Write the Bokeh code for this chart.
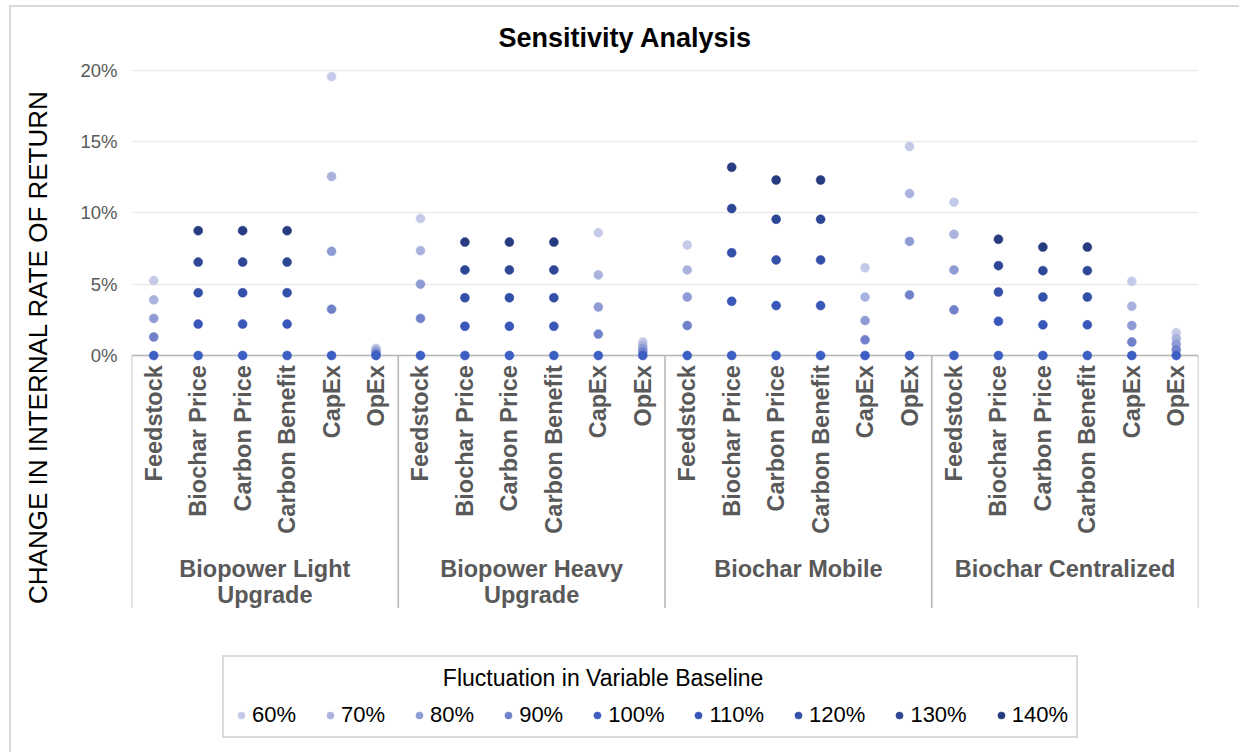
import math
from bokeh.plotting import figure
from bokeh.models import (ColumnDataSource, FactorRange, Range1d, FixedTicker,
                          PrintfTickFormatter, Legend, LegendItem)
from bokeh.core.properties import value
from bokeh.embed import file_html
from bokeh.resources import INLINE

nan = float("nan")

# ---------------- data ----------------
groups = ["Biopower Light Upgrade", "Biopower Heavy Upgrade", "Biochar Mobile", "Biochar Centralized"]
group_labels = ["Biopower Light\nUpgrade", "Biopower Heavy\nUpgrade", "Biochar Mobile", "Biochar Centralized"]
variables = ["Feedstock", "Biochar Price", "Carbon Price", "Carbon Benefit", "CapEx", "OpEx"]
fluctuations = ["60%", "70%", "80%", "90%", "100%", "110%", "120%", "130%", "140%"]

# change in internal rate of return (%), per fluctuation level;
# order: for each group, the six variables; nan = below 0 (not shown on the chart)
irr_60 = [5.25, nan, nan, nan, 19.55, 0.50,
          9.60, nan, nan, nan, 8.60, 0.95,
          7.75, nan, nan, nan, 6.15, 14.65,
          10.75, nan, nan, nan, 5.20, 1.60]
irr_70 = [3.90, nan, nan, nan, 12.55, 0.38,
          7.35, nan, nan, nan, 5.65, 0.71,
          6.00, nan, nan, nan, 4.10, 11.35,
          8.50, nan, nan, nan, 3.45, 1.20]
irr_80 = [2.60, nan, nan, nan, 7.30, 0.25,
          5.00, nan, nan, nan, 3.40, 0.47,
          4.10, nan, nan, nan, 2.45, 8.00,
          6.00, nan, nan, nan, 2.10, 0.80]
irr_90 = [1.30, nan, nan, nan, 3.25, 0.13,
          2.60, nan, nan, nan, 1.50, 0.24,
          2.10, nan, nan, nan, 1.10, 4.25,
          3.20, nan, nan, nan, 0.95, 0.40]
irr_100 = [0, 0, 0, 0, 0, 0,
           0, 0, 0, 0, 0, 0,
           0, 0, 0, 0, 0, 0,
           0, 0, 0, 0, 0, 0]
irr_110 = [nan, 2.20, 2.20, 2.20, nan, nan,
           nan, 2.05, 2.05, 2.05, nan, nan,
           nan, 3.80, 3.50, 3.50, nan, nan,
           nan, 2.40, 2.15, 2.15, nan, nan]
irr_120 = [nan, 4.40, 4.40, 4.40, nan, nan,
           nan, 4.05, 4.05, 4.05, nan, nan,
           nan, 7.20, 6.70, 6.70, nan, nan,
           nan, 4.45, 4.10, 4.10, nan, nan]
irr_130 = [nan, 6.55, 6.55, 6.55, nan, nan,
           nan, 6.00, 6.00, 6.00, nan, nan,
           nan, 10.30, 9.55, 9.55, nan, nan,
           nan, 6.30, 5.95, 5.95, nan, nan]
irr_140 = [nan, 8.75, 8.75, 8.75, nan, nan,
           nan, 7.95, 7.95, 7.95, nan, nan,
           nan, 13.20, 12.30, 12.30, nan, nan,
           nan, 8.15, 7.60, 7.60, nan, nan]

series = [irr_60, irr_70, irr_80, irr_90, irr_100, irr_110, irr_120, irr_130, irr_140]
colors = ["#c5cae8", "#aab3de", "#8f9bd4", "#7182cb", "#3d5ec3",
          "#3957b8", "#3350a9", "#2d4696", "#273b80"]

y_ticks = [0, 5, 10, 15, 20]

# ---------------- layout constants ----------------
FONT = "Liberation Sans"
GREY = "#595959"
LINE = "#b8b8b8"
SUB_LABEL_Y = -0.68      # top of the rotated variable labels (data units, below 0)
GROUP_LABEL_Y = -14.05   # top of the group labels
SEP_BOTTOM = -17.7       # lower end of the group separators

factors = [(g, v) for g in groups for v in variables]

p = figure(width=1239, height=752,
           x_range=FactorRange(*factors, factor_padding=0, group_padding=0, range_padding=0),
           y_range=Range1d(-27.48, 20.05),
           x_axis_location=None,
           output_backend="svg", toolbar_location=None,
           min_border_left=131, min_border_right=41, min_border_top=69, min_border_bottom=5)

p.outline_line_color = None
p.background_fill_color = "white"
p.border_fill_color = None
# light chart-area border along the top and left edges (as in the reference)
p.styles = {
    "background-color": "white",
    "background-image": "linear-gradient(#d9d9d9, #d9d9d9), linear-gradient(#d9d9d9, #d9d9d9)",
    "background-size": "2px 100%, 100% 2px",
    "background-position": "9px 5px, 9px 5px",
    "background-repeat": "no-repeat",
}

# title
p.title.text = "Sensitivity Analysis"
p.title.text_font = FONT
p.title.text_font_size = "27px"
p.title.text_font_style = "bold"
p.title.text_color = "#000000"
p.title.align = "left"
p.title.offset = 367
p.title.standoff = 34

# grid
p.xgrid.visible = False
p.ygrid.ticker = FixedTicker(ticks=y_ticks)
p.ygrid.grid_line_color = "#ebebeb"
p.ygrid.grid_line_width = 1.5

# y axis
yax = p.yaxis[0]
yax.ticker = FixedTicker(ticks=y_ticks)
yax.formatter = PrintfTickFormatter(format="%d%%")
yax.axis_line_color = None
yax.major_tick_line_color = None
yax.minor_tick_line_color = None
yax.major_tick_out = 0
yax.major_tick_in = 0
yax.major_label_standoff = 14
yax.major_label_text_font = FONT
yax.major_label_text_font_size = "18.5px"
yax.major_label_text_color = GREY
# leading no-break spaces move the (upward reading) title up, next to the value scale
yax.axis_label = "\u00a0" * 17 + "CHANGE IN INTERNAL RATE OF RETURN"
yax.axis_label_text_font = FONT
yax.axis_label_text_font_size = "26px"
yax.axis_label_text_font_style = "normal"
yax.axis_label_text_color = "#000000"
yax.axis_label_standoff = 24

# category axis: baseline, separators, labels
n_var = len(variables)
bounds = [k * n_var for k in range(len(groups) + 1)]
p.segment(x0=[bounds[0]], y0=[0], x1=[bounds[-1]], y1=[0], line_color=LINE, line_width=1.6)
p.segment(x0=bounds, y0=0, x1=bounds, y1=SEP_BOTTOM, line_color=LINE, line_width=1.6)

sub_src = ColumnDataSource(data=dict(x=factors, text=[v for g in groups for v in variables]))
p.text(x="x", y=SUB_LABEL_Y, text="text", source=sub_src, angle=math.pi / 2,
       text_align="right", text_baseline="middle",
       text_font=value(FONT), text_font_size="23.5px", text_font_style="bold", text_color=GREY)

grp_src = ColumnDataSource(data=dict(x=groups, text=group_labels))
p.text(x="x", y=GROUP_LABEL_Y, text="text", source=grp_src,
       text_align="center", text_baseline="top", text_line_height=1.0,
       text_font=value(FONT), text_font_size="23.5px", text_font_style="bold", text_color=GREY)

# scatter series
renderers = []
for name, vals, col in zip(fluctuations, series, colors):
    src = ColumnDataSource(data=dict(x=factors, y=vals))
    r = p.scatter("x", "y", source=src, size=9, fill_color=col, line_color=col, line_width=0.5)
    renderers.append(r)

# legend (below the category labels)
legend = Legend(items=[LegendItem(label=f, renderers=[r]) for f, r in zip(fluctuations, renderers)],
                orientation="horizontal", location=(91, 9),
                title="\u00a0" * 33 + "Fluctuation in Variable Baseline",
                title_text_font=FONT, title_text_font_size="23px", title_text_font_style="normal",
                title_text_color="#000000", title_standoff=10,
                label_text_font=FONT, label_text_font_size="22px", label_text_color="#000000",
                glyph_width=18, glyph_height=18, label_standoff=2, spacing=25,
                padding=8, margin=0,
                border_line_color=LINE, border_line_width=2,
                background_fill_color="white", background_fill_alpha=1.0)
p.add_layout(legend)

open("out.html", "w").write(file_html(p, INLINE))
